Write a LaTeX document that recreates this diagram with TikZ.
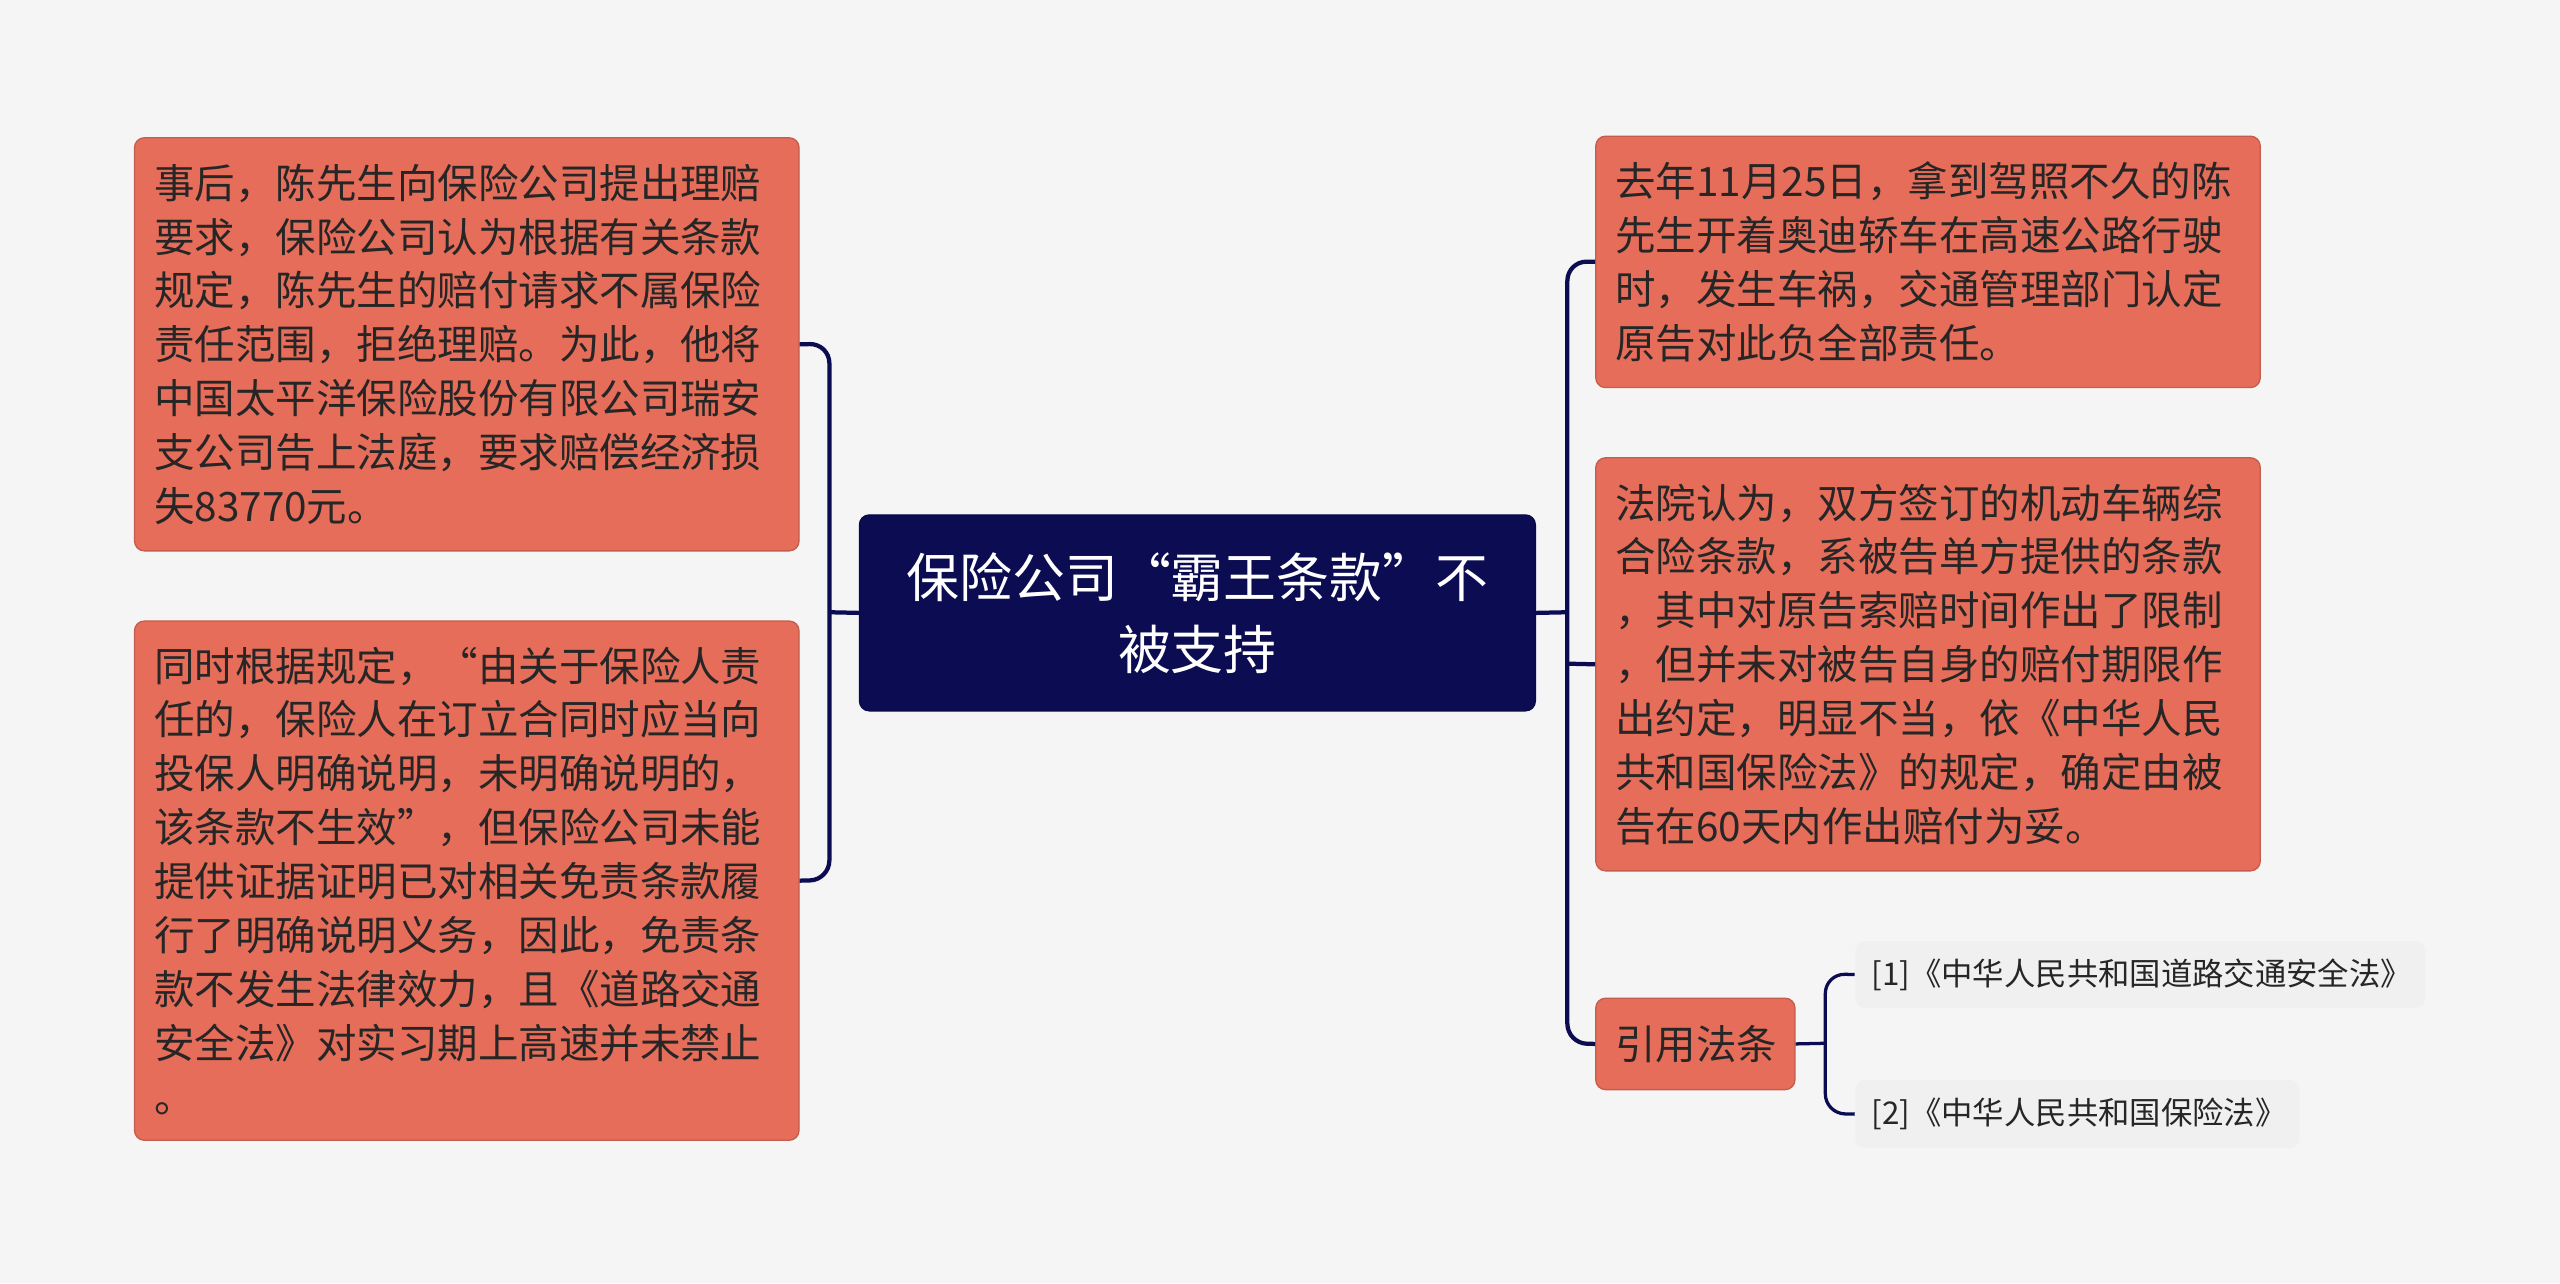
\documentclass[tikz,border=0pt]{standalone}
\usepackage{fontspec}
\setmainfont{Noto Sans CJK SC}
\begin{document}
\begin{tikzpicture}[x=0.5pt,y=-0.5pt,
  box/.style={draw=#1!85!black,fill=#1,rounded corners=3pt,anchor=north west,align=left,inner xsep=6pt,inner ysep=0pt,text=black!85,font=\fontsize{12.4}{16.5}\selectfont},
  box/.default=redbox,
  leaf/.style={fill=leafgray,rounded corners=3pt,anchor=north west,inner xsep=5pt,text=black!85,font=\fontsize{9.6}{12}\selectfont},
  conn/.style={draw=navy,line width=1.3pt,rounded corners=6pt}]
\definecolor{redbox}{HTML}{E56D59}
\definecolor{navy}{HTML}{0B0C52}
\definecolor{leafgray}{HTML}{F0F0F0}
\definecolor{bg}{HTML}{F5F5F5}
\fill[bg] (0,0) rectangle (1568,786);
\useasboundingbox (0,0) rectangle (1568,786);
\node[box=navy,text=white,align=center,text width=195pt,minimum height=120*0.5pt,font=\fontsize{16.2}{22}\selectfont] (C) at (526,315) {保险公司“霸王条款”不\\被支持};
\node[box,text width=191.5pt,minimum height=253*0.5pt] (L1) at (82,84) {事后，陈先生向保险公司提出理赔\\要求，保险公司认为根据有关条款\\规定，陈先生的赔付请求不属保险\\责任范围，拒绝理赔。为此，他将\\中国太平洋保险股份有限公司瑞安\\支公司告上法庭，要求赔偿经济损\\失83770元。};
\node[box,text width=191.5pt,minimum height=318*0.5pt] (L2) at (82,380) {同时根据规定，“由关于保险人责\\任的，保险人在订立合同时应当向\\投保人明确说明，未明确说明的，\\该条款不生效”，但保险公司未能\\提供证据证明已对相关免责条款履\\行了明确说明义务，因此，免责条\\款不发生法律效力，且《道路交通\\安全法》对实习期上高速并未禁止\\。};
\node[box,text width=191.5pt,minimum height=154*0.5pt] (R1) at (977,83) {去年11月25日，拿到驾照不久的陈\\先生开着奥迪轿车在高速公路行驶\\时，发生车祸，交通管理部门认定\\原告对此负全部责任。};
\node[box,text width=191.5pt,minimum height=253*0.5pt] (R2) at (977,280) {法院认为，双方签订的机动车辆综\\合险条款，系被告单方提供的条款\\，其中对原告索赔时间作出了限制\\，但并未对被告自身的赔付期限作\\出约定，明显不当，依《中华人民\\共和国保险法》的规定，确定由被\\告在60天内作出赔付为妥。};
\node[box,text width=49pt,minimum height=56*0.5pt] (R3) at (977,611) {引用法条};
\node[leaf,text width=164.5pt,minimum height=41*0.5pt] (F1) at (1136,576) {[1]《中华人民共和国道路交通安全法》};
\node[leaf,text width=126pt,minimum height=42*0.5pt] (F2) at (1136,661) {[2]《中华人民共和国保险法》};
\draw[conn] (C.west) -- (508,375);
\draw[conn] (L1.east) -- (508,210.5) -- (508,539) -- (L2.east);
\draw[conn] (C.east) -- (960,375);
\draw[conn] (R1.west) -- (960,160) -- (960,639) -- (R3.west);
\draw[conn] (R2.west) -- (960,406.5);
\draw[conn,line width=1pt] (R3.east) -- (1118,639);
\draw[conn,line width=1pt] (F1.west) -- (1118,596.5) -- (1118,682) -- (F2.west);
\end{tikzpicture}
\end{document}
